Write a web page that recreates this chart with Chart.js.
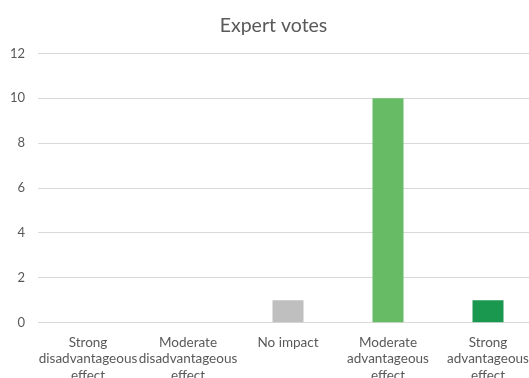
<!DOCTYPE html>
<html>
<head>
<meta charset="utf-8">
<script src="https://cdn.jsdelivr.net/npm/chart.js@4"></script>
<style>
  html, body { margin: 0; padding: 0; background: #fff; overflow: hidden; }
  #wrap { width: 555px; height: 392px; }
</style>
</head>
<body>
<div id="wrap"><canvas id="votesChart" width="555" height="392"></canvas></div>
<script>
// vote counts per impact category
const categories = [
    ['Strong', 'disadvantageous', 'effect'],
    ['Moderate', 'disadvantageous', 'effect'],
    ['No impact'],
    ['Moderate', 'advantageous', 'effect'],
    ['Strong', 'advantageous', 'effect']
];
const votes = [0, 0, 1, 10, 1];
const barColors = ['#c00000', '#f4b183', '#bfbfbf', '#66bb64', '#1a9850'];
const yTicks = [0, 2, 4, 6, 8, 10, 12];

const ctx = document.getElementById('votesChart').getContext('2d');
const votesChart = new Chart(ctx, {
    type: 'bar',
    data: {
        labels: categories,
        datasets: [{
            label: 'Expert votes',
            data: votes,
            backgroundColor: barColors,
            borderWidth: 0,
            barPercentage: 0.31,
            categoryPercentage: 1
        }]
    },
    options: {
        responsive: false,
        animation: false,
        layout: { padding: { left: 9, right: 17, top: 6, bottom: 5 } },
        plugins: {
            legend: { display: false },
            tooltip: { enabled: false },
            title: {
                display: true,
                text: 'Expert votes',
                color: '#595959',
                font: { family: 'Lato', size: 19.5, weight: 'normal' },
                padding: { top: 8, bottom: 16 }
            }
        },
        scales: {
            x: {
                grid: { display: false },
                border: { display: true, color: '#d9d9d9' },
                ticks: {
                    color: '#595959',
                    font: { family: 'Lato', size: 13.5, lineHeight: 1.24 },
                    maxRotation: 0,
                    autoSkip: false,
                    padding: 3
                }
            },
            y: {
                min: 0,
                max: 12,
                afterBuildTicks: axis => { axis.ticks = yTicks.map(v => ({ value: v })); },
                afterFit: axis => { axis.width = 29; },
                grid: { color: '#d9d9d9', drawTicks: false },
                border: { display: false },
                ticks: {
                    color: '#595959',
                    font: { family: 'Lato', size: 13 },
                    padding: 13
                }
            }
        }
    }
});
</script>
</body>
</html>
